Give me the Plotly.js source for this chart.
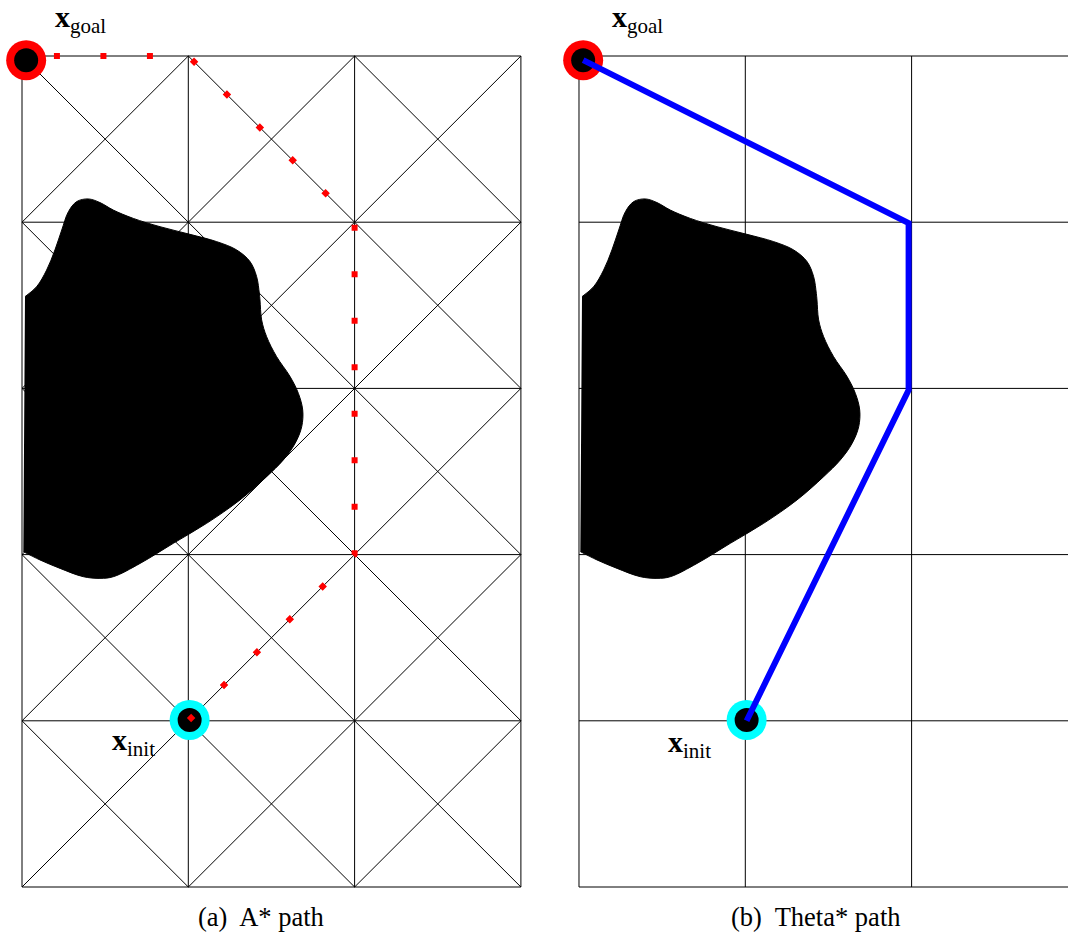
<!DOCTYPE html>
<html><head><meta charset="utf-8">
<script src="https://cdn.plot.ly/plotly-3.0.1.min.js"></script>
<style>html,body{margin:0;padding:0;background:#fff}#chart{width:1068px;height:934px}</style>
</head><body><div id="chart"></div>
<script>
// ---- data ----
const gridCols = [0, 1, 2, 3];
const gridRows = [0, 1, 2, 3, 4, 5];
const obstacleX = [0.008, 0.108, 0.229, 0.369, 0.469, 0.549, 0.710, 0.910, 1.110, 1.311, 1.471, 1.571, 1.642, 1.682, 1.688, 1.662, 1.612, 1.531, 1.471, 1.441, 1.431, 1.427, 1.411, 1.371, 1.291, 1.171, 1.010, 0.830, 0.669, 0.549, 0.469, 0.399, 0.329, 0.279, 0.239, 0.198, 0.148, 0.088, 0.018];
const obstacleY = [2.018, 1.968, 1.917, 1.867, 1.857, 1.867, 1.947, 2.068, 2.188, 2.329, 2.469, 2.569, 2.669, 2.770, 2.870, 2.970, 3.071, 3.191, 3.311, 3.412, 3.532, 3.572, 3.672, 3.763, 3.833, 3.883, 3.927, 3.973, 4.023, 4.073, 4.118, 4.140, 4.124, 4.063, 3.953, 3.833, 3.712, 3.612, 3.552];
const goalPoint = [0.025, 4.975];
const initPoint = [1.008, 1.005];
const aStarPathX = [1, 2, 2, 1, 0];
const aStarPathY = [1, 2, 4, 5, 5];
const thetaPathX = [0.025, 1.982, 1.982, 1.008];
const thetaPathY = [4.975, 3.995, 2.99, 1.0];
const captions = ['(a)  A* path', '(b)  Theta* path'];
const goalLabel = '<b>x</b><sub>goal</sub>';
const initLabel = '<b>x</b><sub>init</sub>';

// ---- helpers ----
function gridLines(cols, rows, xMax, yMax) {
  const xs = [], ys = [];
  cols.forEach(c => { xs.push(c, c, null); ys.push(0, yMax, null); });
  rows.forEach(r => { xs.push(0, xMax, null); ys.push(r, r, null); });
  return {xs, ys};
}
function diagLines(cols, rows) {
  const xs = [], ys = [];
  for (let i = 0; i < cols.length - 1; i++) {
    for (let j = 0; j < rows.length - 1; j++) {
      const c0 = cols[i], c1 = cols[i + 1], r0 = rows[j], r1 = rows[j + 1];
      xs.push(c0, c1, null, c1, c0, null);
      ys.push(r0, r1, null, r0, r1, null);
    }
  }
  return {xs, ys};
}

const W = 1068, H = 934;
const S = 166.3, SY = 166.2;
const pad = 0.1;
const xMaxC = gridCols[gridCols.length - 1], yMaxR = gridRows[gridRows.length - 1];

const gL = gridLines(gridCols, gridRows, xMaxC, yMaxR);
const dL = diagLines(gridCols, gridRows);

const base = {type: 'scatter', hoverinfo: 'skip', showlegend: false};
function panelTraces(xa, ya, withDiag) {
  const t = [];
  t.push(Object.assign({}, base, {x: gL.xs, y: gL.ys, xaxis: xa, yaxis: ya, mode: 'lines', line: {color: '#000', width: 1}, connectgaps: false}));
  if (withDiag) t.push(Object.assign({}, base, {x: dL.xs, y: dL.ys, xaxis: xa, yaxis: ya, mode: 'lines', line: {color: '#000', width: 1}, connectgaps: false}));
  t.push(Object.assign({}, base, {x: obstacleX, y: obstacleY, xaxis: xa, yaxis: ya, mode: 'lines', fill: 'toself', fillcolor: '#000', line: {color: '#000', width: 1, shape: 'spline', smoothing: 1}}));
  t.push(Object.assign({}, base, {
    x: [goalPoint[0], initPoint[0], goalPoint[0], initPoint[0]],
    y: [goalPoint[1], initPoint[1], goalPoint[1], initPoint[1]],
    xaxis: xa, yaxis: ya, mode: 'markers', cliponaxis: false,
    marker: {size: [40, 40, 24, 24], opacity: 1, color: ['#ff0000', '#00ffff', '#000000', '#000000'], line: {width: 0}}
  }));
  return t;
}

const traces = [].concat(
  panelTraces('x', 'y', true),
  [Object.assign({}, base, {x: aStarPathX, y: aStarPathY, xaxis: 'x', yaxis: 'y', mode: 'lines', line: {color: '#ff0000', width: 6, dash: '0px,1px,6px,39.5px'}})],
  panelTraces('x2', 'y2', false),
  [Object.assign({}, base, {x: thetaPathX, y: thetaPathY, xaxis: 'x2', yaxis: 'y2', mode: 'lines', line: {color: '#0000ff', width: 6}})]
);

const leftX0 = 22, rightX0 = 579, yBase = 887;
const yDomain = [(H - (yBase + pad * SY)) / H, (H - (yBase - (yMaxR + pad) * SY)) / H];
const axHidden = {visible: false, fixedrange: true};
const font = {family: 'Liberation Serif, serif', color: '#000'};

function ann(text, px, py, size, xanchor) {
  return {text: text, xref: 'paper', yref: 'paper', x: px / W, y: (H - py) / H, xanchor: xanchor || 'left', yanchor: 'middle', showarrow: false, font: Object.assign({}, font, {size: size})};
}

const layout = {
  width: W, height: H,
  margin: {l: 0, r: 0, t: 0, b: 0, pad: 0},
  paper_bgcolor: '#fff', plot_bgcolor: 'rgba(0,0,0,0)',
  font: font,
  xaxis: Object.assign({}, axHidden, {range: [-pad, xMaxC + pad], domain: [(leftX0 - pad * S) / W, (leftX0 + (xMaxC + pad) * S) / W]}),
  yaxis: Object.assign({}, axHidden, {range: [-pad, yMaxR + pad], domain: yDomain}),
  xaxis2: Object.assign({}, axHidden, {range: [-pad, (W - rightX0) / S], domain: [(rightX0 - pad * S) / W, 1], anchor: 'y2'}),
  yaxis2: Object.assign({}, axHidden, {range: [-pad, yMaxR + pad], domain: yDomain, anchor: 'x2'}),
  annotations: [
    ann(goalLabel, 53, 19, 30),
    ann(goalLabel, 610, 19, 30),
    ann(initLabel, 110, 742, 30),
    ann(initLabel, 666, 744, 30),
    ann(captions[0], 261, 917, 26.5, 'center'),
    ann(captions[1], 816, 917, 26.5, 'center')
  ]
};

Plotly.newPlot('chart', traces, layout, {staticPlot: true, displayModeBar: false});
</script>
</body></html>
